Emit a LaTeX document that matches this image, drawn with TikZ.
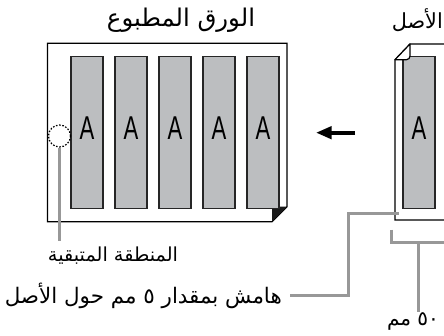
\documentclass[tikz,border=0pt]{standalone}
\usepackage{graphicx}
\usepackage{fontspec}
\setmainfont{DejaVu Sans}
\newfontfamily\arabicfont[Script=Arabic]{DejaVu Sans}
\newfontfamily\latinA{Liberation Sans}
\TeXXeTstate=1
\usetikzlibrary{arrows.meta}
\definecolor{stripgray}{RGB}{188,190,192}
\definecolor{leadgray}{RGB}{152,152,152}
\newcommand{\bigA}{\scalebox{0.67}[1]{\latinA\fontsize{33}{33}\selectfont A}}
\newcommand{\artxt}[2]{\resizebox{#1}{!}{\arabicfont\fontsize{20}{24}\selectfont #2}}
\begin{document}
\begin{tikzpicture}[x=1pt,y=-1pt,
  sheet/.style={draw=black, line width=1.2pt, fill=white},
  stripbox/.style={draw=black!85, line width=1.2pt, fill=stripgray, minimum width=32pt, minimum height=152pt, inner sep=0pt},
  letterA/.style={inner sep=0pt},
  lead/.style={draw=leadgray, line width=3pt},
  lbl/.style={inner sep=0pt}]
\useasboundingbox (0,0) rectangle (444,336);

% printed sheet
\draw[sheet] (47.5,43.3) -- (287,43.3) -- (287,206.7) -- (272,221.7) -- (47.5,221.7) -- cycle;
\fill[black!90] (272,206.7) -- (287,206.7) -- (272,221.7) -- cycle;
\foreach \i/\x in {1/87,2/131,3/175,4/219,5/263}{
  \node[stripbox] (s\i) at (\x,132.7) {};
  \node[letterA] (a\i) at (\x,128) {\bigA};
}

% original
\draw[sheet] (395,59.7) -- (410,44) -- (450,44) -- (450,220) -- (395,220) -- cycle;
\node[stripbox] (s6) at (419,132.7) {};
\node[letterA] (a6) at (419,128) {\bigA};
\draw[sheet, line join=round] (395,59.7) -- (410,44) -- (410,56) to[out=-90,in=0] (406.5,59.7) -- cycle;

% arrow
\coordinate (arrS) at (355,132.7);
\coordinate (arrE) at (316,132.7);
\draw[line width=3.7pt, -{Triangle[length=15.7pt,width=12.3pt]}] (arrS) -- (arrE);

% titles
\node[lbl] (t1) at (181,20) {\artxt{148pt}{\beginR الورق المطبوع\endR}};
\node[lbl, anchor=east] (t2) at (443,20) {\artxt{51pt}{\beginR الأصل\endR}};

% remaining area
\node[circle, draw, line width=1.2pt, dash pattern=on 1.6pt off 1.6pt, minimum size=22pt, inner sep=0pt] (rc) at (59.5,136) {};
\node[lbl] (rl) at (113,256) {\artxt{130pt}{\beginR المنطقة المتبقية\endR}};
\coordinate (rcEnd) at (59.5,240.7);
\draw[lead] (rc.south) -- (rcEnd);

% margin
\node[lbl, anchor=east] (ml) at (282,296) {\artxt{277pt}{\beginR هامش بمقدار ٥ مم حول الأصل\endR}};
\coordinate (mEnd) at (399,213.7);
\draw[lead] ([xshift=8pt]ml.east) -| (348,213.7) -- (mEnd);

% 50 mm
\node[lbl] (fl) at (413,321) {\artxt{52pt}{\beginR ٥٠ مم\endR}};
\coordinate (bL) at (391,229.7);
\coordinate (bR) at (446,243);
\draw[lead] (bL) |- (bR);
\draw[lead] (418.7,243) -- (fl.north -| 418.7,0);
\end{tikzpicture}
\end{document}
